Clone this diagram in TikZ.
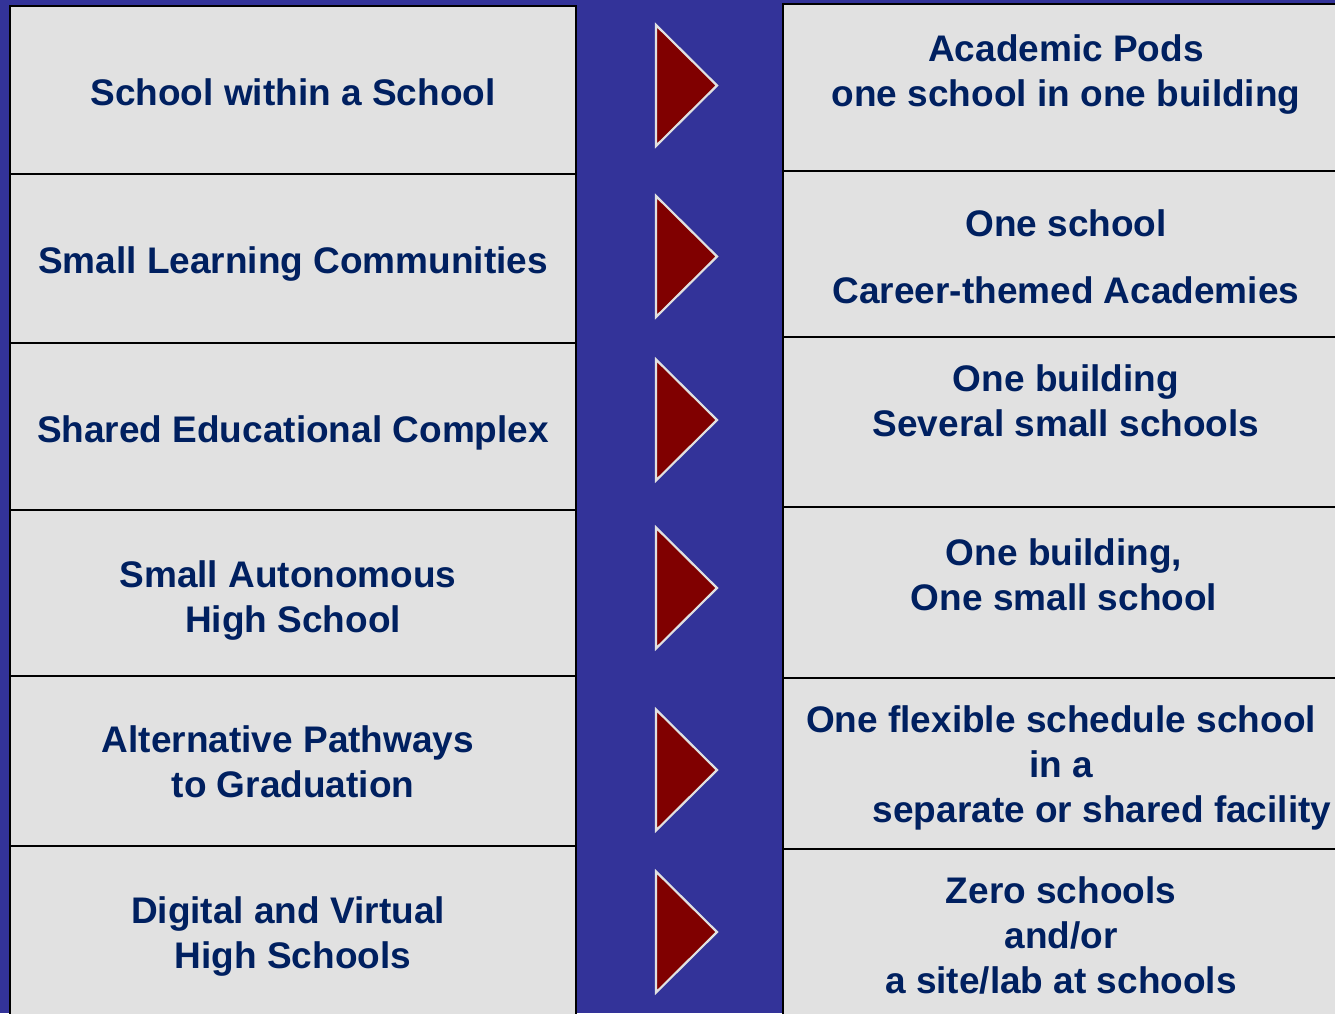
\documentclass[tikz,border=0pt]{standalone}
\usepackage{fontspec}
\setmainfont{Liberation Sans}
\usepackage{tikz}
\usepackage{xcolor}
\definecolor{bgblue}{RGB}{51,51,153}
\definecolor{cellgray}{RGB}{225,225,225}
\definecolor{navy}{RGB}{0,32,96}
\definecolor{darkred}{RGB}{128,0,0}

\begin{document}
\begin{tikzpicture}[x=1pt, y=-1pt,
    cell/.style={draw=black, line width=2.5pt, fill=cellgray},
    txt/.style={anchor=north, inner sep=0pt, align=center, text=navy, font=\fontsize{37}{45}\selectfont\bfseries},
    tri/.style={fill=darkred, draw=cellgray, line width=2.2pt, line join=miter}
]
    \useasboundingbox (0,0) rectangle (1335,1013);
    \clip (0,0) rectangle (1335,1013);
    \fill[bgblue] (0,0) rectangle (1335,1013);

    % Cells (left: model, right: what it means)
    \foreach \ta/\ba in {6/174, 174/343, 343/510, 510/676, 676/846, 846/1020}
        \draw[cell] (10,\ta) rectangle (576,\ba);
    \foreach \ta/\ba in {4/171, 171/337, 337/507, 507/678, 678/849, 849/1020}
        \draw[cell] (783,\ta) rectangle (1360,\ba);

    % Arrows
    \foreach \y in {85.5, 256.5, 420, 588, 770, 932}
        \draw[tri] (656,{\y-60.5}) -- (717,\y) -- (656,{\y+60.5}) -- cycle;

    % Left column
    \node[txt] (sws) at (293,78.5) {School within a School};
    \node[txt] (slc) at (293,246.5) {Small Learning Communities};
    \node[txt] (sec) at (293,415.5) {Shared Educational Complex};
    \node[txt] (sahs) at (293,560.5) {Small Autonomous\hspace*{10pt}\\High School};
    \node[txt] (apg) at (293,725.5) {Alternative Pathways\hspace*{10pt}\\to Graduation};
    \node[txt] (dvhs) at (293,896.5) {Digital and Virtual\hspace*{10pt}\\High Schools};

    % Right column
    \node[txt] (pods) at (1066,34.5) {Academic Pods\\one school in one building};
    \node[txt] (acad) at (1066,209.5) {One school\\[22pt]Career-themed Academies};
    \node[txt] (sev) at (1066,364.5) {One building\\Several small schools};
    \node[txt] (one) at (1064,538.5) {One building,\\One small school};
    \node[txt] (flex) at (1061,705.5) {One flexible schedule school\\in a\\\hspace*{82pt}separate or shared facility};
    \node[txt] (zero) at (1061,876.5) {Zero schools\\and/or\\a site/lab at schools};
\end{tikzpicture}
\end{document}
